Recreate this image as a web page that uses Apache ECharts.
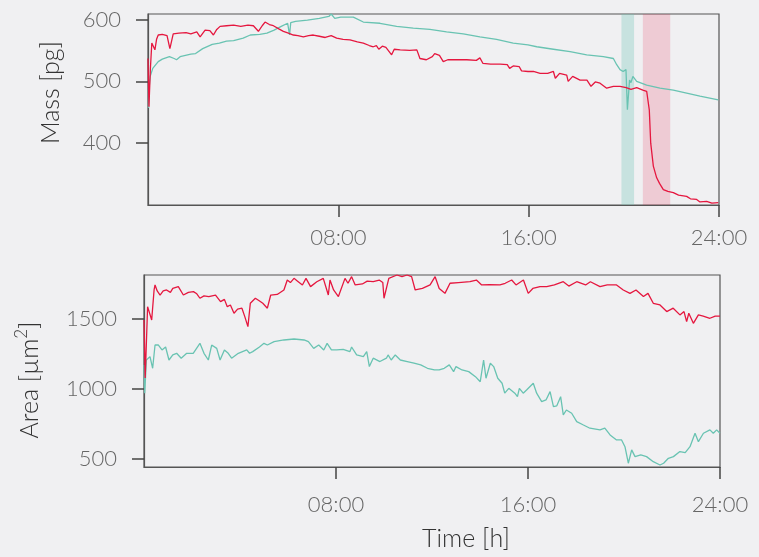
<!DOCTYPE html>
<html>
<head>
<meta charset="utf-8">
<title>Mass / Area</title>
<script src="https://cdn.jsdelivr.net/npm/echarts@6/dist/echarts.min.js"></script>
<style>
  html, body { margin: 0; padding: 0; background: #f0f0f2; }
  #chart { width: 759px; height: 557px; }
</style>
</head>
<body>
<div id="chart"></div>
<script>
// 时间 (h) 和数值
const massRedT = [0, 0.04, 0.1, 0.16, 0.22, 0.29, 0.36, 0.43, 0.6, 0.8, 0.92, 1.06, 1.3, 1.6, 1.8, 2.05, 2.19, 2.4, 2.6, 2.75, 2.89, 3.03, 3.3, 3.6, 3.9, 4.2, 4.43, 4.64, 4.8, 4.92, 5.1, 5.27, 5.5, 5.69, 5.9, 6.11, 6.3, 6.53, 6.75, 6.95, 7.2, 7.45, 7.7, 7.93, 8.2, 8.49, 8.8, 9.05, 9.3, 9.47, 9.6, 9.7, 9.85, 10, 10.24, 10.35, 10.6, 11, 11.3, 11.43, 11.7, 11.95, 12.05, 12.13, 12.25, 12.41, 12.6, 13, 13.4, 13.8, 13.95, 14.08, 14.4, 14.8, 15.1, 15.2, 15.35, 15.6, 15.7, 15.97, 16.2, 16.48, 16.8, 17.04, 17.12, 17.3, 17.6, 17.66, 17.85, 18.16, 18.45, 18.62, 18.8, 19, 19.28, 19.56, 19.84, 20.1, 20.3, 20.54, 20.8, 20.96, 21.03, 21.07, 21.13, 21.24, 21.38, 21.5, 21.66, 21.85, 22.08, 22.3, 22.64, 22.8, 23.06, 23.2, 23.48, 23.7, 23.97]
const massRed = [537, 459, 520, 562, 565, 551, 568, 575, 576, 574, 553, 577, 578, 579, 577, 580, 572, 583, 582, 575, 584, 589, 590, 591, 589, 591, 590, 581, 590, 596, 592, 590, 585, 581, 578, 575, 574, 572, 574, 575, 573, 571, 574, 570, 568, 567, 564, 562, 558, 556, 558, 552, 557, 555, 543, 552, 551, 550, 551, 537, 535, 540, 545, 548, 542, 532, 535, 535, 535, 534, 538, 529, 528, 528, 527, 521, 525, 524, 517, 516, 516, 513, 513, 516, 505, 513, 510, 500, 508, 502, 502, 492, 499, 497, 489, 492, 492, 490, 487, 490, 486, 484, 482, 454, 400, 363, 344, 335, 325, 322, 320, 316, 314, 310, 309, 305, 306, 303, 304]

const massTealT = [0.02, 0.05, 0.09, 0.2, 0.43, 0.6, 0.9, 1.1, 1.2, 1.35, 1.8, 2, 2.3, 2.7, 3, 3.3, 3.6, 4, 4.3, 4.7, 5, 5.3, 5.6, 5.87, 5.95, 6, 6.2, 6.7, 7.2, 7.6, 7.7, 7.85, 8.1, 8.63, 9.05, 9.75, 10.45, 11.15, 11.85, 12.55, 13.25, 13.95, 14.65, 15.35, 15.97, 16.34, 17.04, 17.74, 18.44, 19.14, 19.56, 19.7, 19.84, 19.97, 20.09, 20.15, 20.24, 20.3, 20.38, 20.54, 20.96, 21.52, 22.08, 22.64, 23.2, 23.97]
const massTeal = [457, 490, 508, 521, 532, 536, 540, 537, 535, 540, 544, 545, 553, 560, 562, 565, 566, 570, 575, 576, 578, 583, 589, 594, 575, 595, 597, 599, 602, 605, 609, 602, 604, 604, 596, 594, 589, 586, 584, 580, 577, 572, 568, 562, 559, 556, 552, 548, 543, 540, 537, 527, 519, 516, 519, 454, 502, 498, 508, 500, 494, 489, 486, 481, 476, 470]

const areaRedT = [0, 0.05, 0.15, 0.32, 0.42, 0.46, 0.55, 0.67, 0.8, 0.94, 1.1, 1.2, 1.43, 1.64, 1.85, 2.06, 2.2, 2.33, 2.5, 2.7, 2.98, 3.19, 3.35, 3.47, 3.6, 3.75, 3.9, 4.08, 4.2, 4.33, 4.43, 4.64, 4.8, 4.95, 5.14, 5.28, 5.55, 5.83, 5.97, 6.1, 6.25, 6.4, 6.6, 6.75, 6.94, 7.2, 7.47, 7.68, 7.75, 7.9, 8.1, 8.375, 8.5, 8.65, 8.8, 9.1, 9.3, 9.55, 9.8, 9.95, 10, 10.2, 10.54, 10.75, 10.96, 11.15, 11.3, 11.6, 11.92, 12.13, 12.3, 12.54, 12.75, 13.1, 13.58, 13.85, 14.07, 14.4, 14.83, 15.05, 15.32, 15.5, 15.81, 16.01, 16.2, 16.5, 16.78, 17.1, 17.47, 17.7, 18.03, 18.4, 18.6, 19, 19.3, 19.69, 19.97, 20.25, 20.5, 20.81, 21, 21.22, 21.5, 21.78, 22.05, 22.33, 22.5, 22.61, 22.7, 22.89, 23.1, 23.3, 23.58, 23.8, 24]
const areaRed = [1493, 1079, 1588, 1493, 1707, 1743, 1700, 1671, 1700, 1707, 1690, 1718, 1731, 1671, 1690, 1695, 1680, 1648, 1665, 1660, 1671, 1624, 1640, 1588, 1600, 1541, 1570, 1577, 1517, 1445, 1612, 1648, 1630, 1612, 1577, 1671, 1675, 1707, 1778, 1760, 1790, 1770, 1743, 1790, 1731, 1766, 1790, 1671, 1778, 1707, 1660, 1790, 1755, 1802, 1743, 1750, 1770, 1766, 1778, 1760, 1648, 1790, 1814, 1802, 1814, 1802, 1707, 1718, 1743, 1802, 1718, 1683, 1755, 1760, 1766, 1778, 1743, 1745, 1743, 1755, 1778, 1743, 1778, 1683, 1718, 1731, 1731, 1743, 1766, 1735, 1766, 1743, 1766, 1731, 1743, 1743, 1707, 1683, 1707, 1660, 1683, 1612, 1600, 1553, 1577, 1529, 1553, 1481, 1541, 1469, 1529, 1520, 1505, 1521, 1521]

const areaTealT = [0, 0.03, 0.1, 0.25, 0.36, 0.46, 0.6, 0.75, 0.9, 1.04, 1.2, 1.36, 1.55, 1.78, 2.05, 2.33, 2.5, 2.68, 2.82, 3.03, 3.17, 3.35, 3.51, 3.65, 3.93, 4.28, 4.4, 4.53, 4.81, 5, 5.14, 5.42, 5.83, 6.25, 6.67, 6.85, 7.07, 7.28, 7.49, 7.63, 7.81, 8.03, 8.3, 8.58, 8.65, 8.86, 9.14, 9.28, 9.39, 9.55, 9.83, 10.1, 10.17, 10.3, 10.47, 10.68, 10.97, 11.25, 11.53, 11.81, 12.1, 12.3, 12.51, 12.72, 12.9, 13, 13.25, 13.53, 13.81, 14.01, 14.15, 14.25, 14.43, 14.57, 14.74, 14.92, 15.03, 15.2, 15.45, 15.56, 15.64, 15.8, 15.94, 16.22, 16.36, 16.57, 16.75, 16.92, 17.06, 17.2, 17.36, 17.47, 17.6, 17.82, 18.03, 18.31, 18.58, 19, 19.2, 19.42, 19.69, 19.9, 20.04, 20.18, 20.32, 20.46, 20.7, 20.94, 21.22, 21.5, 21.65, 21.85, 22.06, 22.33, 22.55, 22.75, 22.96, 23.1, 23.31, 23.58, 23.72, 23.86, 24]
const areaTeal = [1172, 970, 1207, 1231, 1148, 1314, 1314, 1279, 1300, 1207, 1243, 1255, 1220, 1255, 1255, 1326, 1255, 1207, 1314, 1290, 1207, 1279, 1255, 1220, 1255, 1279, 1255, 1267, 1300, 1326, 1314, 1338, 1350, 1357, 1350, 1338, 1290, 1314, 1279, 1326, 1279, 1279, 1283, 1267, 1300, 1243, 1231, 1267, 1160, 1220, 1196, 1220, 1243, 1207, 1243, 1207, 1196, 1184, 1172, 1148, 1136, 1136, 1148, 1172, 1124, 1160, 1136, 1124, 1088, 1052, 1207, 1077, 1184, 1160, 1077, 1041, 970, 1005, 970, 945, 1005, 970, 993, 1041, 970, 910, 922, 981, 874, 880, 945, 815, 850, 827, 767, 743, 720, 708, 720, 672, 636, 636, 588, 470, 565, 517, 529, 517, 481, 457, 470, 505, 517, 553, 545, 588, 684, 624, 684, 708, 684, 708, 684]

// 阴影区间 (h)
const tealBand = [19.9, 20.43]
const redBand = [20.8, 21.95]

const xTicks = [8, 16, 24]
const massTicks = [400, 500, 600]
const areaTicks = [500, 1000, 1500]

const RED = '#e5173f'
const TEAL = '#69c3b2'
const FONT = 'Lato'

const pair = (t, v) => t.map((x, i) => [x, v[i]])

function xAxisOf(gridIndex, margin, name) {
  return {
    type: 'value',
    gridIndex,
    min: 0,
    max: 24,
    name: name || '',
    nameLocation: 'middle',
    nameGap: 59,
    nameTextStyle: { fontFamily: FONT, fontWeight: 300, fontSize: 25, color: '#333', padding: [0, 0, 0, 68] },
    axisLine: { show: true, lineStyle: { color: '#555', width: 1.2 } },
    axisTick: { show: true, customValues: xTicks, length: 12, lineStyle: { color: '#444', width: 1.5 } },
    axisLabel: {
      customValues: xTicks,
      margin,
      fontFamily: FONT,
      fontWeight: 300,
      fontSize: 22,
      color: '#666',
      formatter: (v) => (v < 10 ? '0' : '') + v + ':00'
    },
    splitLine: { show: false }
  }
}

function yAxisOf(gridIndex, min, max, ticks, name, gap, pad) {
  return {
    type: 'value',
    gridIndex,
    min,
    max,
    name,
    nameLocation: 'middle',
    nameGap: gap,
    nameTextStyle: {
      fontFamily: FONT,
      fontWeight: 300,
      fontSize: 25,
      color: '#333',
      padding: pad,
      rich: {
        a: { fontFamily: FONT, fontWeight: 300, fontSize: 25, color: '#333' },
        s: { fontFamily: FONT, fontWeight: 300, fontSize: 17, color: '#333', padding: [0, 0, 16, 0] }
      }
    },
    axisLine: { show: true, lineStyle: { color: '#555', width: 1.2 } },
    axisTick: { show: true, customValues: ticks, length: 12, lineStyle: { color: '#444', width: 1.5 } },
    axisLabel: {
      customValues: ticks,
      margin: 27,
      fontFamily: FONT,
      fontWeight: 300,
      fontSize: 22,
      color: '#666',
      formatter: (v) => String(v)
    },
    splitLine: { show: false }
  }
}

function lineOf(name, xi, data, color, extra) {
  return Object.assign({
    name,
    type: 'line',
    xAxisIndex: xi,
    yAxisIndex: xi,
    data,
    showSymbol: false,
    symbol: 'none',
    animation: false,
    lineStyle: { color, width: 1.3 },
    itemStyle: { color }
  }, extra || {})
}

const chart = echarts.init(document.getElementById('chart'), null, { renderer: 'canvas' })

const option = {
  backgroundColor: '#f0f0f2',
  animation: false,
  grid: [
    { left: 148, top: 14, width: 571, height: 191, show: true, borderColor: '#555', borderWidth: 1.2, backgroundColor: 'transparent' },
    { left: 144, top: 275, width: 576, height: 192, show: true, borderColor: '#555', borderWidth: 1.2, backgroundColor: 'transparent' }
  ],
  xAxis: [xAxisOf(0, 22), xAxisOf(1, 27, 'Time [h]')],
  yAxis: [
    yAxisOf(0, 300, 609, massTicks, 'Mass [pg]', 85, [0, 0, 0, 34]),
    yAxisOf(1, 443, 1814, areaTicks, '{a|Area [µm}{s|2}{a|]}', 98, [0, 18, 0, 0])
  ],
  series: [
    lineOf('mass teal', 0, pair(massTealT, massTeal), TEAL),
    lineOf('mass red', 0, pair(massRedT, massRed), RED),
    // 两个阴影区, 画在线的上面
    lineOf('bands', 0, [], RED, {
      z: 5,
      markArea: {
        silent: true,
        data: [
          [{ xAxis: tealBand[0], itemStyle: { color: 'rgba(105,195,178,0.3)' } }, { xAxis: tealBand[1] }],
          [{ xAxis: redBand[0], itemStyle: { color: 'rgba(229,23,63,0.17)' } }, { xAxis: redBand[1] }]
        ]
      }
    }),
    lineOf('area teal', 1, pair(areaTealT, areaTeal), TEAL),
    lineOf('area red', 1, pair(areaRedT, areaRed), RED)
  ]
}

chart.setOption(option)
</script>
</body>
</html>
